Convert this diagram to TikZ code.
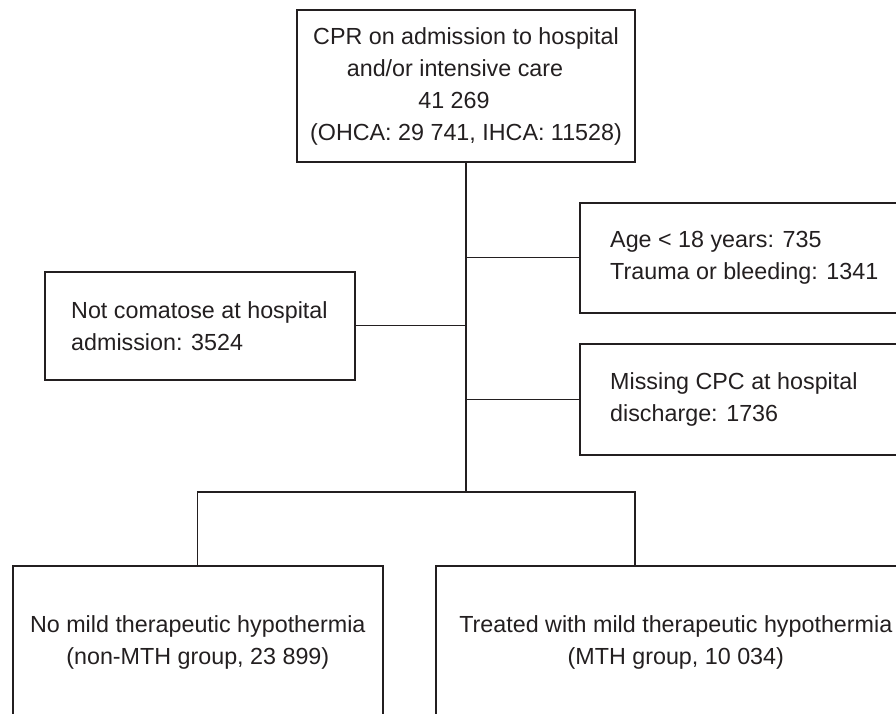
\documentclass[tikz,border=0pt]{standalone}
\usepackage{fontspec}
\setmainfont{Liberation Sans}
\usetikzlibrary{positioning}
\definecolor{ink}{HTML}{231F20}
\tikzset{
  box/.style={draw=ink, line width=1.6pt, rectangle, inner sep=0pt, text=ink, font=\fontsize{23.3}{32}\selectfont},
  lbl/.style={inner sep=0pt, text=ink, align=left, font=\fontsize{23.3}{32}\selectfont},
  link/.style={draw=ink, line width=1.3pt}
}
\begin{document}
\begin{tikzpicture}[x=1pt, y=-1pt]
    \clip (0,0) rectangle (896,713);
    % top box
    \node[box, align=center, minimum width=338pt, minimum height=152pt] (cpr) at (466,86)
        {CPR on admission to hospital\\and/or intensive care\rule{22pt}{0pt}\\41 269\rule{24pt}{0pt}\\(OHCA: 29 741, IHCA: 11528)};
    % exclusions
    \node[box, anchor=north west, minimum width=330pt, minimum height=110pt] (age) at (579,202) {};
    \node[lbl, anchor=west] (agetxt) at ([xshift=31pt]age.west) {Age < 18 years: 735\\Trauma or bleeding: 1341};
    \node[box, anchor=north west, minimum width=330pt, minimum height=111pt] (miss) at (579,343) {};
    \node[lbl, anchor=west] (misstxt) at ([xshift=31pt]miss.west) {Missing CPC at hospital\\discharge: 1736};
    \node[box, anchor=north west, minimum width=310pt, minimum height=108pt] (coma) at (44,271) {};
    \node[lbl, anchor=west] (comatxt) at ([xshift=27pt]coma.west) {Not comatose at hospital\\admission: 3524};
    % groups
    \node[box, align=center, anchor=north west, minimum width=370pt, minimum height=153pt] (nomth) at (12,565)
        {No mild therapeutic hypothermia\\(non-MTH group, 23 899)};
    \node[box, align=center, anchor=north west, minimum width=480pt, minimum height=153pt] (mth) at (435,565)
        {Treated with mild therapeutic hypothermia\\(MTH group, 10 034)};
    % connectors
    \coordinate (split) at (466,492);
    \coordinate (mthin) at ([xshift=200pt]mth.north west);
    \draw[link] (cpr.south) -- (split);
    \draw[link] (age.west) -- (age.west -| cpr.south);
    \draw[link] (miss.west) -- (miss.west -| cpr.south);
    \draw[link] (coma.east) -- (coma.east -| cpr.south);
    \draw[link] (nomth.north) |- (split) -| (mthin);
\end{tikzpicture}
\end{document}
